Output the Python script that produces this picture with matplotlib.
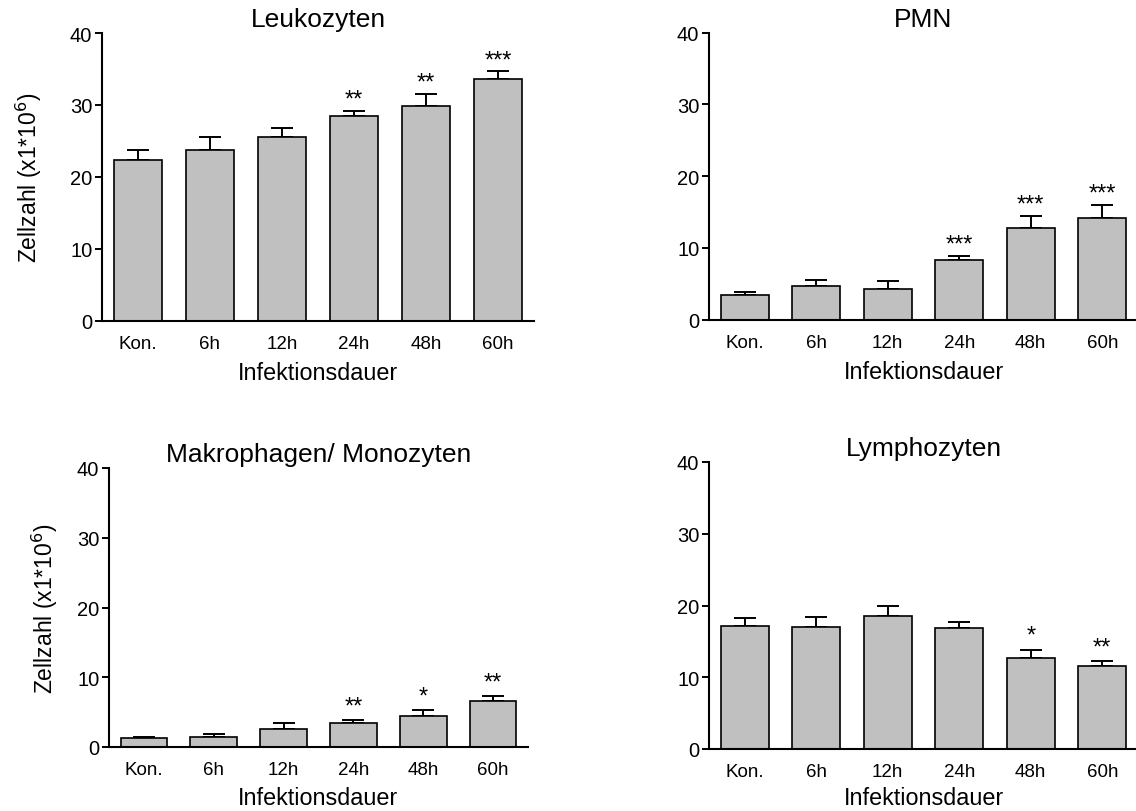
import matplotlib
matplotlib.use("Agg")
import matplotlib.pyplot as plt
import numpy as np

plt.rcParams['font.family'] = ['Liberation Sans', 'DejaVu Sans']

categories = ["Kon.", "6h", "12h", "24h", "48h", "60h"]

leuko_mean = [22.4, 23.8, 25.5, 28.5, 29.8, 33.6]
leuko_err = [1.4, 1.7, 1.3, 0.7, 1.75, 1.05]
leuko_sig = ["", "", "", "**", "**", "***"]

pmn_mean = [3.45, 4.7, 4.3, 8.27, 12.73, 14.2]
pmn_err = [0.35, 0.8, 1.1, 0.6, 1.72, 1.78]
pmn_sig = ["", "", "", "***", "***", "***"]

makro_mean = [1.29, 1.43, 2.58, 3.39, 4.4, 6.55]
makro_err = [0.14, 0.37, 0.81, 0.53, 0.86, 0.71]
makro_sig = ["", "", "", "**", "*", "**"]

lympho_mean = [17.17, 16.98, 18.5, 16.89, 12.62, 11.6]
lympho_err = [1.07, 1.44, 1.45, 0.84, 1.21, 0.6]
lympho_sig = ["", "", "", "", "*", "**"]

titles = ["Leukozyten", "PMN", "Makrophagen/ Monozyten", "Lymphozyten"]
ylabel = "Zellzahl (x1*10$^{6}$)"
xlabel = "Infektionsdauer"
yticks = [0, 10, 20, 30, 40]

W, H = 1136, 812
fig = plt.figure(figsize=(W / 100, H / 100), dpi=100)

def px_axes(left, right, top, bottom):
    return fig.add_axes([left / W, 1 - bottom / H, (right - left) / W, (bottom - top) / H])

# axes, means, errors, significance, title, ylabel pad, star offset, xlabel pad
panels = [
    (px_axes(102, 534, 34, 321.7), leuko_mean, leuko_err, leuko_sig, titles[0], 19, 3.8, 7),
    (px_axes(709, 1138, 33.7, 320.7), pmn_mean, pmn_err, pmn_sig, titles[1], None, 3.8, 7),
    (px_axes(109, 528, 469, 748), makro_mean, makro_err, makro_sig, titles[2], 12, 5.4, 5.5),
    (px_axes(709, 1138, 463, 750), lympho_mean, lympho_err, lympho_sig, titles[3], None, 6.0, 4.5),
]

for ax, mean, err, sig, title, ypad, off, xpad in panels:
    x = np.arange(len(categories))
    ax.errorbar(x, mean, yerr=[np.zeros(len(err)), err], fmt='none', ecolor='black',
                elinewidth=1.4, capsize=8, capthick=1.4, zorder=1)
    ax.bar(x, mean, width=0.667, color='#c0c0c0', edgecolor='black', linewidth=1.2, zorder=2)
    for i, s in enumerate(sig):
        if s:
            ax.annotate(s, xy=(i, mean[i] + err[i]), xytext=(0, off), textcoords='offset points',
                        ha='center', va='baseline', fontsize=17)
    ax.set_xlim(-0.5, 5.5)
    ax.set_ylim(0, 40)
    ax.set_yticks(yticks)
    ax.set_xticks(x)
    ax.set_xticklabels(categories)
    ax.tick_params(axis='x', length=0, pad=10, labelsize=13.5)
    ax.tick_params(axis='y', length=5, width=1.4, pad=2, labelsize=14.5)
    for sp in ['top', 'right']:
        ax.spines[sp].set_visible(False)
    for sp in ['left', 'bottom']:
        ax.spines[sp].set_linewidth(1.5)
    ax.set_title(title, fontsize=19, pad=5)
    ax.set_xlabel(xlabel, fontsize=16.8, labelpad=xpad)
    if ypad is not None:
        ax.set_ylabel(ylabel, fontsize=16.5, labelpad=ypad)

fig.savefig("out.png", dpi=100)
